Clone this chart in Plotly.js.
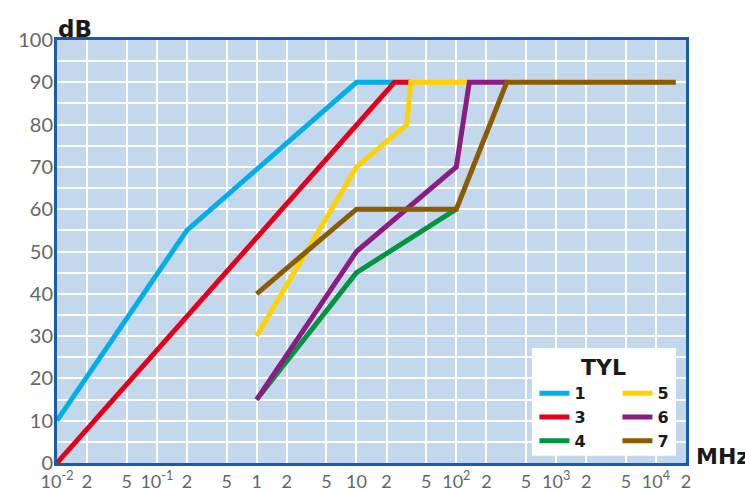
<!DOCTYPE html>
<html>
<head>
<meta charset="utf-8">
<script src="https://cdn.plot.ly/plotly-3.0.1.min.js"></script>
<style>html,body{margin:0;padding:0;background:#fff;}#chart{width:745px;height:491px;}</style>
</head>
<body>
<div id="chart"></div>
<script>
// ---- data (frequency in MHz, attenuation in dB) ----
const seriesNames = ['1', '3', '4', '5', '6', '7'];
const f1 = [0.01, 0.2, 10, 24];
const db1 = [10, 55, 90, 90];
const f3 = [0.01, 24, 35];
const db3 = [0, 90, 90];
const f4 = [1, 10, 100];
const db4 = [15, 45, 60];
const f5 = [1, 10, 32, 35, 135];
const db5 = [30, 70, 80, 90, 90];
const f6 = [1, 10, 100, 135, 320];
const db6 = [15, 50, 70, 90, 90];
const f7 = [1, 10, 100, 320, 15800];
const db7 = [40, 60, 60, 90, 90];

const xTickVals = [0.01, 0.02, 0.05, 0.1, 0.2, 0.5, 1, 2, 5, 10, 20, 50, 100, 200, 500, 1000, 2000, 5000, 10000, 20000];
const xTickText = ['10<sup>-2</sup>', '2', '5', '10<sup>-1</sup>', '2', '5', '1', '2', '5', '10', '2', '5',
                   '10<sup>2</sup>', '2', '5', '10<sup>3</sup>', '2', '5', '10<sup>4</sup>', '2'];
const yTickVals = [0, 10, 20, 30, 40, 50, 60, 70, 80, 90, 100];

const colors = ['#00aee9', '#e3001b', '#009540', '#ffd200', '#8c1c81', '#8c5b00'];
const xs = [f1, f3, f4, f5, f6, f7];
const ys = [db1, db3, db4, db5, db6, db7];
const legendOf = ['legend', 'legend', 'legend', 'legend2', 'legend2', 'legend2'];
const ranks = [1, 2, 3, 1, 2, 3];

const traces = seriesNames.map((n, i) => ({
  type: 'scatter', mode: 'lines', name: n,
  x: xs[i], y: ys[i],
  line: {color: colors[i], width: 5},
  legend: legendOf[i], legendrank: ranks[i]
}));

const tickFont = {family: 'Lato, "Open Sans", sans-serif', size: 20, color: '#666666'};
const legFont = {family: '"DejaVu Sans", sans-serif', size: 16, color: '#1a1a1a', weight: 'bold'};

const layout = {
  width: 745, height: 491,
  margin: {l: 57, r: 59, t: 40, b: 28},
  paper_bgcolor: '#ffffff',
  plot_bgcolor: '#c3d8ec',
  showlegend: true,
  xaxis: {
    type: 'log', range: [-2, Math.log10(20000)],
    tickmode: 'array', tickvals: xTickVals, ticktext: xTickText,
    showgrid: true, gridcolor: '#ffffff', gridwidth: 2,
    showline: true, mirror: true, linecolor: '#1b5ca8', linewidth: 3,
    ticks: '', tickfont: {family: tickFont.family, size: 18, color: tickFont.color},
    zeroline: false, fixedrange: true
  },
  yaxis: {
    range: [0, 100],
    tickmode: 'array', tickvals: yTickVals,
    showgrid: true, gridcolor: '#ffffff', gridwidth: 2,
    minor: {dtick: 5, showgrid: true, gridcolor: '#ffffff', gridwidth: 2},
    showline: true, mirror: true, linecolor: '#1b5ca8', linewidth: 3,
    ticks: '', tickfont: tickFont, ticklabelstandoff: -3,
    zeroline: false, fixedrange: true
  },
  legend: {
    x: 0.759, xanchor: 'left', y: 0.205, yanchor: 'top',
    bgcolor: 'rgba(0,0,0,0)', borderwidth: 0, font: legFont,
    tracegroupgap: 0
  },
  legend2: {
    x: 0.891, xanchor: 'left', y: 0.205, yanchor: 'top',
    bgcolor: 'rgba(0,0,0,0)', borderwidth: 0, font: legFont,
    tracegroupgap: 0
  },
  shapes: [{
    type: 'rect', xref: 'paper', yref: 'paper',
    x0: 0.755, x1: 0.984, y0: 0.017, y1: 0.272,
    fillcolor: '#ffffff', line: {width: 0}, layer: 'above'
  }],
  annotations: [
    {text: '<b>TYL</b>', xref: 'paper', yref: 'paper', x: 0.869, y: 0.226, xanchor: 'center', yanchor: 'middle',
     showarrow: false, font: {family: '"DejaVu Sans", sans-serif', size: 22, color: '#1a1a1a'}},
    {text: '<b>dB</b>', xref: 'paper', yref: 'paper', x: -0.002, y: 1, xanchor: 'left', yanchor: 'bottom', yshift: -4,
     showarrow: false, font: {family: '"DejaVu Sans", sans-serif', size: 23, color: '#1a1a1a'}},
    {text: '<b>MHz</b>', xref: 'paper', yref: 'paper', x: 1.012, y: 0.015, xanchor: 'left', yanchor: 'middle',
     showarrow: false, font: {family: '"DejaVu Sans", sans-serif', size: 22, color: '#1a1a1a'}}
  ]
};

Plotly.newPlot('chart', traces, layout, {displayModeBar: false, staticPlot: true});
</script>
</body>
</html>
